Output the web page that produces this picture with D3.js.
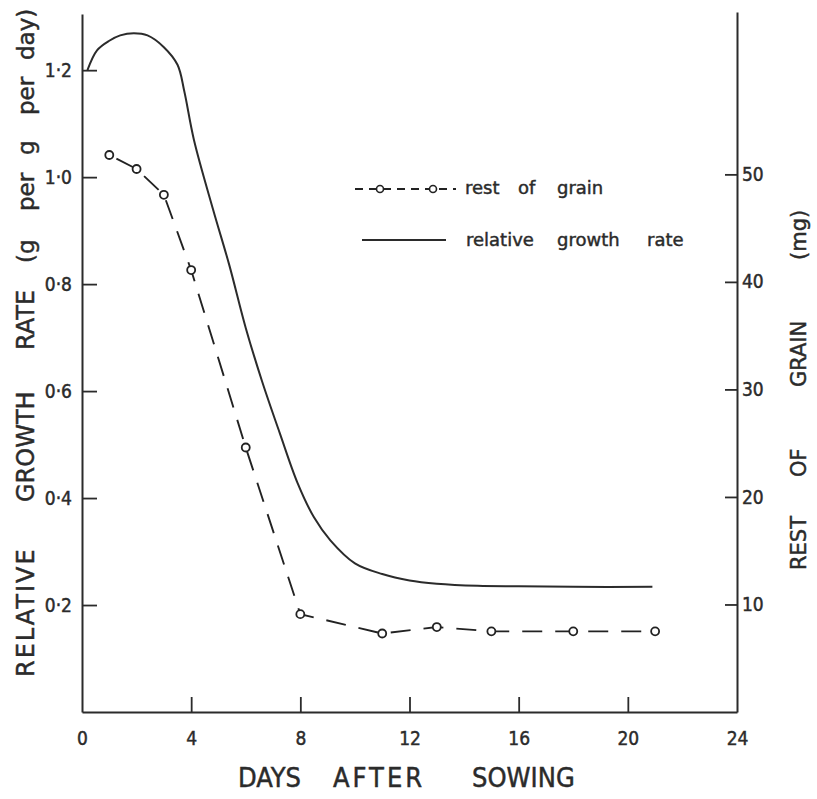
<!DOCTYPE html>
<html>
<head>
<meta charset="utf-8">
<script src="https://cdn.jsdelivr.net/npm/d3@7"></script>
<style>
  body { margin: 0; background: #fff; }
  text { font-family: "DejaVu Sans", sans-serif; fill: #2b2b2b; stroke: #2b2b2b; stroke-width: 0.45px; }
</style>
</head>
<body>
<div id="chart"></div>
<script>
// relative growth rate curve (g per g per day)
var rgrDays = [0.2, 0.55, 1.0, 1.4, 1.9, 2.4, 3.0, 3.5, 3.75, 4.1, 4.8, 5.4, 6.0, 6.6, 7.25, 7.9, 8.5, 9.1, 10.0, 11.0, 12.0, 13.0, 14.5, 16.0, 18.0, 20.9];
var rgrValues = [1.20, 1.237, 1.255, 1.265, 1.269, 1.265, 1.243, 1.21, 1.16, 1.07, 0.94, 0.835, 0.718, 0.618, 0.521, 0.428, 0.364, 0.321, 0.278, 0.258, 0.246, 0.240, 0.236, 0.235, 0.234, 0.234];

// rest of grain (mg)
var grainDays = [1, 2, 3, 4, 6, 8, 11, 13, 15, 18, 21];
var grainValues = [51.8, 50.5, 48.1, 41.1, 24.6, 9.1, 7.3, 7.9, 7.5, 7.5, 7.5];

var xTicks = [0, 4, 8, 12, 16, 20, 24];
var leftTicks = [0.2, 0.4, 0.6, 0.8, 1.0, 1.2];
var rightTicks = [10, 20, 30, 40, 50];

var width = 817, height = 799;
var ink = "#2b2b2b";

var svg = d3.select('#chart')
	.append('svg')
	.attr('width', width)
	.attr('height', height);

var x = d3.scaleLinear().domain([0, 24]).range([82, 737]);
var yLeft = d3.scaleLinear().domain([0, 1.305]).range([712, 14]);
var yRight = d3.scaleLinear().domain([0, 65.1]).range([712, 12]);

// axes
var xAxis = d3.axisBottom(x)
	.tickValues(xTicks)
	.tickSizeInner(-15)
	.tickSizeOuter(0)
	.tickPadding(20)
	.tickFormat(d3.format('d'));

var leftAxis = d3.axisLeft(yLeft)
	.tickValues(leftTicks)
	.tickSizeInner(-15)
	.tickSizeOuter(0)
	.tickPadding(10)
	.tickFormat(function(d) { return d.toFixed(1).replace('.', '·'); });

var rightAxis = d3.axisRight(yRight)
	.tickValues(rightTicks)
	.tickSizeInner(-12)
	.tickSizeOuter(0)
	.tickPadding(5);

var gx = svg.append('g').attr('transform', 'translate(0,712)').call(xAxis);
var gl = svg.append('g').attr('transform', 'translate(82,0)').call(leftAxis);
var gr = svg.append('g').attr('transform', 'translate(737,0)').call(rightAxis);

[gx, gl, gr].forEach(function(g) {
	g.select('.domain').attr('stroke', ink).attr('stroke-width', 2);
	g.selectAll('.tick line').attr('stroke', ink).attr('stroke-width', 1.8);
	g.selectAll('.tick text')
		.attr('fill', ink)
		.style('font-size', '19px')
		.style('font-family', '"DejaVu Sans Condensed", sans-serif');
});
// no tick marks at the corners
gx.selectAll('.tick line').filter(function(d) { return d === 0 || d === 24; }).remove();

// relative growth rate line
var rgrData = rgrDays.map(function(d, i) { return { day: d, value: rgrValues[i] }; });
var rgrLine = d3.line()
	.x(function(d) { return x(d.day); })
	.y(function(d) { return yLeft(d.value); })
	.curve(d3.curveCatmullRom.alpha(0.5));

svg.append('path')
	.datum(rgrData)
	.attr('d', rgrLine)
	.attr('fill', 'none')
	.attr('stroke', ink)
	.attr('stroke-width', 2);

// rest of grain dashed line with open circles
var grainData = grainDays.map(function(d, i) { return { day: d, value: grainValues[i] }; });
var grainLine = d3.line()
	.x(function(d) { return x(d.day); })
	.y(function(d) { return yRight(d.value); });

svg.append('path')
	.datum(grainData)
	.attr('d', grainLine)
	.attr('fill', 'none')
	.attr('stroke', '#222')
	.attr('stroke-width', 1.9)
	.attr('stroke-dasharray', '20,13')
	.attr('stroke-dashoffset', -8);

svg.selectAll('circle.grain')
	.data(grainData)
	.enter()
	.append('circle')
	.attr('class', 'grain')
	.attr('cx', function(d) { return x(d.day); })
	.attr('cy', function(d) { return yRight(d.value); })
	.attr('r', 4)
	.attr('fill', '#fff')
	.attr('stroke', '#222')
	.attr('stroke-width', 1.8);

// put each word of a label at its own offset along the line
function placeWords(sel, words, offsets) {
	return sel.selectAll('tspan')
		.data(words)
		.enter()
		.append('tspan')
		.attr('x', function(d, i) { return offsets[i]; })
		.text(function(d) { return d; });
}

// legend
var legendGrain = svg.append('g');
legendGrain.append('line')
	.attr('x1', 355).attr('x2', 456)
	.attr('y1', 189).attr('y2', 189)
	.attr('stroke', '#222')
	.attr('stroke-width', 1.8)
	.attr('stroke-dasharray', '8,6');
[380, 433].forEach(function(cx) {
	legendGrain.append('circle')
		.attr('cx', cx).attr('cy', 189).attr('r', 3.5)
		.attr('fill', '#fff').attr('stroke', '#222').attr('stroke-width', 1.6);
});
placeWords(legendGrain.append('text').attr('y', 194).style('font-size', '18px'),
	['rest', 'of', 'grain'], [465, 518, 557]);

svg.append('line')
	.attr('x1', 362).attr('x2', 446)
	.attr('y1', 240).attr('y2', 240)
	.attr('stroke', ink)
	.attr('stroke-width', 1.8);
placeWords(svg.append('text').attr('y', 246).style('font-size', '18px'),
	['relative', 'growth', 'rate'], [466, 557, 647]);

// axis titles
var xTitle = svg.append('text')
	.attr('y', 787)
	.style('font-family', '"DejaVu Sans Condensed", sans-serif')
	.style('font-size', '27px');
placeWords(xTitle, ['DAYS', 'AFTER', 'SOWING'], [238, 333, 472])
	.filter(function(d) { return d === 'AFTER'; })
	.style('letter-spacing', '3px');

var leftTitle = svg.append('g')
	.attr('transform', 'translate(34,677) rotate(-90)')
	.append('text')
	.style('font-size', '24px');
placeWords(leftTitle, ['RELATIVE', 'GROWTH', 'RATE', '(g', 'per', 'g', 'per', 'day)'],
	[0, 175, 327, 414, 466, 522, 562, 617])
	.style('letter-spacing', function(d) { return d === 'RELATIVE' ? '2px' : null; })
	.style('font-size', function(d) { return d === d.toUpperCase() ? null : '23px'; });

var rightTitle = svg.append('g')
	.attr('transform', 'translate(806,570) rotate(-90)')
	.append('text')
	.style('font-size', '21px');
placeWords(rightTitle, ['REST', 'OF', 'GRAIN', '(mg)'], [0, 93, 183, 310]);
</script>
</body>
</html>
